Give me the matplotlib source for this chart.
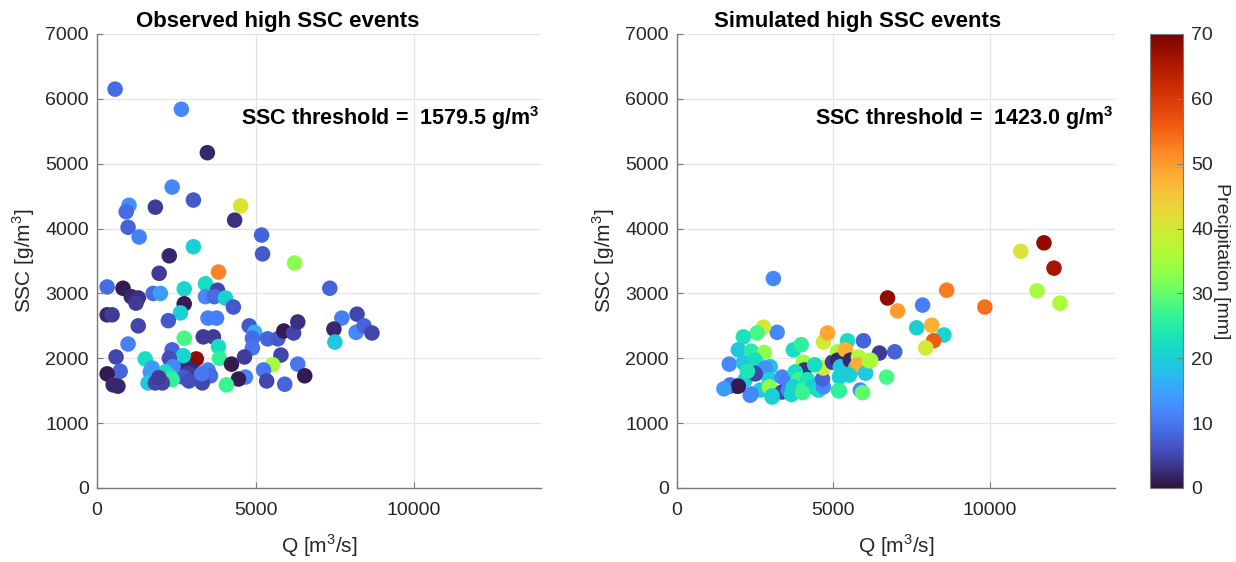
import numpy as np
import matplotlib
matplotlib.use("Agg")
import matplotlib.pyplot as plt

plt.rcParams['font.family'] = ['Liberation Sans', 'DejaVu Sans']
plt.rcParams['mathtext.fontset'] = 'custom'
plt.rcParams['mathtext.rm'] = 'Liberation Sans'
plt.rcParams['mathtext.bf'] = 'Liberation Sans:bold'

# ---------------- Observed events ----------------
obs_q = [570, 2660, 3480, 2370, 1010, 920, 1840, 3040, 4530, 4340,
         980, 1330, 5190, 3040, 2280, 5220, 6230, 3830, 1960, 320,
         820, 1080, 1300, 1230, 1770, 2000, 2750, 3420, 3800, 3420,
         3700, 4050, 4300, 2750, 2630, 320, 475, 1300, 2250, 3500,
         3770, 4800, 4970, 4900, 4900, 5380, 5700, 5890, 6200, 6330,
         980, 2750, 3350, 3670, 3830, 3860, 4240, 4650, 5800, 5540,
         6330, 6550, 5250, 5350, 5920, 4680, 4460, 4080, 3500, 3580,
         3320, 3130, 2780, 3000, 2880, 2720, 2370, 2720, 2280, 2400,
         2150, 2310, 2370, 1520, 1680, 1740, 1610, 1840, 2060, 600,
         730, 320, 510, 660, 7340, 7720, 8200, 7470, 7500, 8170,
         8420, 8670, 1950, 2900, 3300]
obs_ssc = [6150, 5840, 5170, 4640, 4360, 4260, 4330, 4440, 4350, 4130,
           4020, 3870, 3900, 3720, 3580, 3610, 3470, 3330, 3310, 3100,
           3080, 2950, 2930, 2850, 3000, 3000, 3070, 3150, 3050, 2950,
           2950, 2930, 2790, 2840, 2700, 2670, 2670, 2500, 2580, 2620,
           2620, 2500, 2400, 2310, 2160, 2300, 2300, 2420, 2390, 2560,
           2220, 2310, 2330, 2330, 2180, 2000, 1910, 2020, 2050, 1900,
           1910, 1730, 1820, 1650, 1600, 1710, 1680, 1590, 1820, 1730,
           1620, 1990, 1900, 1820, 1770, 1710, 2130, 2040, 2000, 1870,
           1790, 1710, 1670, 1990, 1790, 1850, 1620, 1620, 1620, 2020,
           1800, 1760, 1590, 1570, 3080, 2620, 2680, 2450, 2250, 2400,
           2500, 2390, 1700, 1650, 1760]
obs_p = [9, 12, 2, 12, 13, 9, 4, 7, 41, 3,
         8, 11, 8, 20, 2, 7, 33, 52, 4, 9,
         1, 2, 3, 4, 9, 14, 21, 22, 5, 12,
         9, 20, 7, 1, 20, 2, 4, 5, 7, 11,
         11, 7, 16, 9, 10, 8, 7, 1, 5, 3,
         11, 28, 4, 4, 22, 26, 1, 4, 5, 35,
         10, 1, 10, 5, 8, 11, 1, 27, 11, 9,
         5, 68, 2, 2, 4, 7, 8, 21, 6, 12,
         22, 24, 26, 22, 13, 14, 19, 5, 5, 5,
         8, 1, 2, 2, 8, 11, 5, 2, 19, 12,
         8, 5, 4, 6, 10]

# ---------------- Simulated events ----------------
sim_q = [10990, 11730, 12050, 11510, 12240, 9840, 8620, 6730, 7050, 7850,
         7660, 8140, 8530, 8200, 7950, 6960, 6470, 5960, 6190, 3080,
         3200, 2760, 2560, 2120, 1960, 2370, 2790, 1670, 2120, 2500,
         2530, 2980, 2820, 1700, 1920, 2180, 2340, 2660, 2950, 2950,
         3040, 3360, 3360, 3560, 3530, 3720, 3970, 4040, 4070, 3780,
         3880, 3720, 4170, 4010, 4330, 4520, 4680, 4650, 4680, 4680,
         4810, 4970, 5130, 5130, 5220, 5190, 5190, 5450, 5380, 5540,
         5700, 5800, 5770, 6030, 5860, 5930, 5510, 6150, 6700, 1700,
         2370, 3040, 3660, 4010, 5160, 1960, 2500, 1500, 2250, 4400]
sim_ssc = [3650, 3780, 3390, 3040, 2850, 2790, 3050, 2930, 2730, 2820,
           2470, 2510, 2360, 2270, 2160, 2100, 2080, 2270, 1970, 3230,
           2400, 2480, 2390, 2330, 2130, 2110, 2090, 1910, 1930, 1970,
           1770, 1870, 1850, 1570, 1570, 1670, 1430, 1510, 1670, 1560,
           1400, 1710, 1480, 1510, 1670, 2130, 2210, 1940, 1820, 1790,
           1670, 1560, 1670, 1510, 1560, 1510, 1560, 1680, 1850, 2250,
           2390, 1940, 2100, 1970, 1870, 1710, 1500, 2270, 2130, 1970,
           1850, 2020, 1900, 1770, 1510, 1470, 1740, 1960, 1710, 1590,
           1450, 1420, 1440, 1470, 1500, 1570, 1760, 1530, 1800, 1900]
sim_p = [41, 68, 66, 35, 36, 54, 53, 68, 50, 11,
         20, 48, 21, 56, 40, 8, 4, 8, 35, 12,
         12, 40, 28, 23, 19, 25, 33, 12, 19, 22,
         5, 18, 13, 11, 1, 19, 12, 20, 20, 33,
         23, 12, 5, 12, 11, 22, 26, 34, 3, 22,
         27, 20, 23, 26, 20, 22, 12, 8, 40, 40,
         49, 4, 35, 2, 19, 20, 27, 22, 48, 2,
         19, 36, 48, 19, 12, 30, 20, 36, 28, 10,
         12, 20, 21, 27, 26, 1, 5, 14, 24, 22]

titles = ["Observed high SSC events", "Simulated high SSC events"]
thresholds = [1579.5, 1423.0]
x_ticks = [0, 5000, 10000]
y_ticks = [0, 1000, 2000, 3000, 4000, 5000, 6000, 7000]
cbar_ticks = [0, 10, 20, 30, 40, 50, 60, 70]

W, H = 1236, 562
fig = plt.figure(figsize=(W / 100, H / 100), dpi=100)

def frac(x0, y0, x1, y1):
    return [x0 / W, 1 - y1 / H, (x1 - x0) / W, (y1 - y0) / H]

ax1 = fig.add_axes(frac(97, 34, 541, 488))
ax2 = fig.add_axes(frac(677, 34, 1115, 488))
cax = fig.add_axes(frac(1150, 34, 1183, 488))

tick_color = '#262626'
datasets = [(obs_q, obs_ssc, obs_p), (sim_q, sim_ssc, sim_p)]
title_x = [(278 - 97) / 444, (858 - 677) / 438]
sc = None
for ax, (q, ssc, p), title, thr, tx in zip([ax1, ax2], datasets, titles,
                                           thresholds, title_x):
    sc = ax.scatter(q, ssc, c=p, cmap='turbo', vmin=0, vmax=70, s=125,
                    edgecolors='none', zorder=3)
    ax.set_xlim(0, 14000)
    ax.set_ylim(0, 7000)
    ax.set_xticks(x_ticks)
    ax.set_yticks(y_ticks)
    ax.grid(True, color='#e3e3e3', linewidth=0.9, zorder=0)
    ax.set_axisbelow(True)
    for s in ['top', 'right']:
        ax.spines[s].set_visible(False)
    for s in ['left', 'bottom']:
        ax.spines[s].set_color('#7a7a7a')
        ax.spines[s].set_linewidth(1.0)
    ax.tick_params(direction='in', length=4, colors='#7a7a7a',
                   labelcolor=tick_color, labelsize=14, pad=6)
    ax.tick_params(axis='x', pad=10)
    ax.set_xlabel('Q [m$^3$/s]', fontsize=15, color=tick_color, labelpad=10)
    ax.set_ylabel('SSC [g/m$^3$]', fontsize=15, color=tick_color, labelpad=6)
    ax.text(tx, 1.005, title, transform=ax.transAxes, ha='center',
            va='bottom', fontsize=16, fontweight='bold')
    ax.text(0.997, 0.815, 'SSC threshold =  %.1f g/m$^\\mathbf{3}$' % thr,
            transform=ax.transAxes, ha='right', va='center',
            fontsize=15.5, fontweight='bold', zorder=4)

cb = fig.colorbar(sc, cax=cax, ticks=cbar_ticks)
cb.outline.set_edgecolor('#7a7a7a')
cb.ax.tick_params(direction='in', length=4, colors='#7a7a7a',
                  labelcolor=tick_color, labelsize=14, pad=6)
cb.set_label('Precipitation [mm]', rotation=-90, fontsize=14,
             color=tick_color, labelpad=12)

fig.savefig('out.png', dpi=100, facecolor='white')
